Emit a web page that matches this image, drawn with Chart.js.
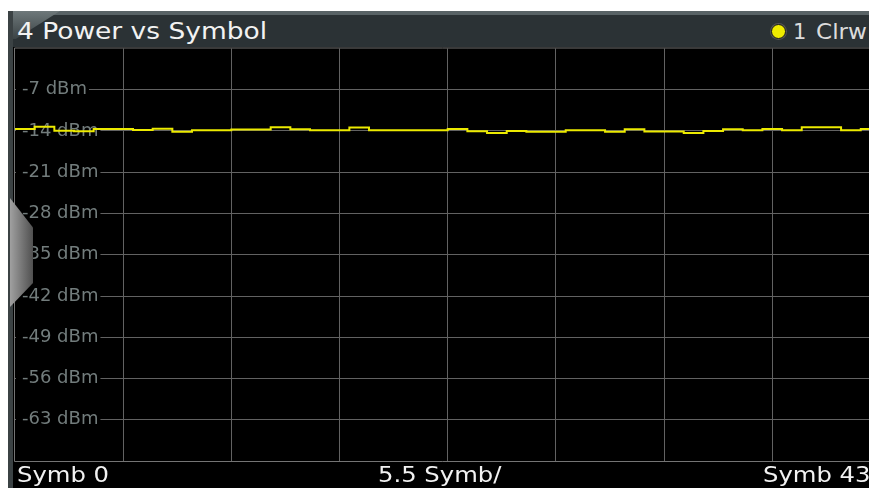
<!DOCTYPE html>
<html>
<head>
<meta charset="utf-8">
<script src="https://cdn.jsdelivr.net/npm/chart.js@4/dist/chart.umd.min.js"></script>
<style>
html,body{margin:0;padding:0;background:#fff;width:869px;height:488px;overflow:hidden;position:relative;font-family:"DejaVu Sans",sans-serif;}
#panel{position:absolute;left:8px;top:11px;width:861px;height:477px;background:#000;}
#leftstrip{position:absolute;left:8px;top:11px;width:5px;height:477px;background:#3b4244;}
#titlebar{position:absolute;left:8px;top:11px;width:861px;height:36px;background:#2b3235;border-top:4px solid #596366;box-sizing:border-box;}
#tab{position:absolute;left:8px;top:11px;width:52px;height:28px;background:linear-gradient(to bottom,#6e787a,#3b4345);clip-path:polygon(0 0,100% 0,15% 100%,0 100%);}
#title{position:absolute;left:17px;top:18px;color:#f2f2f2;font-size:23px;line-height:26px;white-space:nowrap;transform:scaleX(1.15);transform-origin:left top;}
#legdot{position:absolute;left:771px;top:24px;width:13px;height:13px;border-radius:50%;background:#f0ec00;border:1.5px solid #1a1a1a;box-shadow:0 0 0 1px #555;}
#leg1{position:absolute;left:793px;top:19px;color:#dcdcdc;font-size:21px;line-height:26px;white-space:nowrap;}
#leg2{position:absolute;left:816px;top:19px;color:#dcdcdc;font-size:21px;line-height:26px;white-space:nowrap;transform:scaleX(1.1);transform-origin:left top;}
#wrap{position:absolute;left:14px;top:46px;width:855px;height:442px;}
.bl{position:absolute;top:462px;color:#f2f2f2;font-size:21.5px;line-height:26px;white-space:nowrap;transform:scaleX(1.13);transform-origin:left top;}
#handle{position:absolute;left:10px;top:198px;width:23px;height:109px;background:linear-gradient(to right,#a0a0a0,#505050);clip-path:polygon(0 0,100% 27%,100% 78%,0 100%);}
</style>
</head>
<body>
<div id="panel"></div>
<div id="titlebar"></div>
<div id="tab"></div>
<div id="leftstrip"></div>
<div id="title">4 Power vs Symbol</div>
<div id="legdot"></div>
<div id="leg1">1</div>
<div id="leg2">Clrw</div>
<div id="wrap"><canvas id="c" width="855" height="442"></canvas></div>
<div class="bl" style="left:17px">Symb 0</div>
<div class="bl" style="left:378px">5.5 Symb/</div>
<div class="bl" style="left:763px">Symb 43</div>
<div id="handle"></div>
<script>
// Symbol index of each step
const SYMBOLS = [0,1,2,3,4,5,6,7,8,9,10,11,12,13,14,15,16,17,18,19,20,21,
                 22,23,24,25,26,27,28,29,30,31,32,33,34,35,36,37,38,39,40,41,42,43];
// Power per symbol, dBm
const POWER = [-13.66,-13.29,-13.95,-14.03,-13.66,-13.66,-13.85,-13.61,-14.12,-13.88,-13.88,
               -13.75,-13.75,-13.36,-13.71,-13.86,-13.86,-13.41,-13.86,-13.86,-13.86,-13.86,
               -13.66,-14.03,-14.36,-13.98,-14.12,-14.12,-13.88,-13.88,-14.12,-13.71,-14.10,
               -14.10,-14.36,-13.98,-13.71,-13.88,-13.66,-13.88,-13.37,-13.37,-13.88,-13.68];
// Y tick labels (dBm)
const Y_TICKS = [-7,-14,-21,-28,-35,-42,-49,-56,-63];
const Y_MIN = -70, Y_MAX = 0;
// X grid divisions (5.5 Symb/div)
const X_GRID = [5.5,11,16.5,22,27.5,33,38.5];
const X_MIN = 0, X_MAX = 43.42;

const pts = SYMBOLS.map((s,i)=>({x:s,y:POWER[i]}));
pts.push({x:SYMBOLS[SYMBOLS.length-1]+1,y:POWER[POWER.length-1]});

const frame = {
  id:'frame',
  beforeDatasetsDraw(chart){
    const {ctx, chartArea:a} = chart;
    ctx.save();
    ctx.strokeStyle='#747474';
    ctx.lineWidth=1;
    ctx.beginPath();
    ctx.moveTo(a.right+1, a.top-0.5);
    ctx.lineTo(a.left-0.5, a.top-0.5);
    ctx.lineTo(a.left-0.5, a.bottom+0.5);
    ctx.lineTo(a.right+1, a.bottom+0.5);
    ctx.stroke();
    ctx.restore();
  }
};

function zeroFit(s){
  if (s.isHorizontal()) s.height = 0; else s.width = 0;
  s.paddingTop = 0; s.paddingBottom = 0; s.paddingLeft = 0; s.paddingRight = 0;
}

new Chart(document.getElementById('c'), {
  type:'line',
  data:{datasets:[{
    label:'1 Clrw',
    data:pts,
    borderColor:'#ecea00',
    borderWidth:2,
    pointRadius:0,
    stepped:true,
    tension:0,
    fill:false
  }]},
  options:{
    responsive:false,
    animation:false,
    devicePixelRatio:1,
    layout:{padding:{left:1,top:2.5,right:0,bottom:27}},
    plugins:{legend:{display:false},tooltip:{enabled:false}},
    scales:{
      x:{
        type:'linear', min:X_MIN, max:X_MAX,
        afterBuildTicks:(s)=>{ s.ticks = X_GRID.map(v=>({value:v})); },
        afterFit:zeroFit,
        grid:{color:'#626262',lineWidth:1,drawTicks:false},
        border:{display:false},
        ticks:{display:false}
      },
      y:{
        type:'linear', min:Y_MIN, max:Y_MAX,
        afterBuildTicks:(s)=>{ s.ticks = Y_TICKS.map(v=>({value:v})); },
        afterFit:zeroFit,
        grid:{color:'#626262',lineWidth:1,drawTicks:false},
        border:{display:false},
        ticks:{
          mirror:true, padding:7,
          color:'#727c7c',
          font:{family:'DejaVu Sans',size:18},
          showLabelBackdrop:true,
          backdropColor:'#000',
          backdropPadding:{left:6,right:2,top:1,bottom:1},
          callback:(v)=>v+' dBm'
        }
      }
    }
  },
  plugins:[frame]
});
</script>
</body>
</html>
